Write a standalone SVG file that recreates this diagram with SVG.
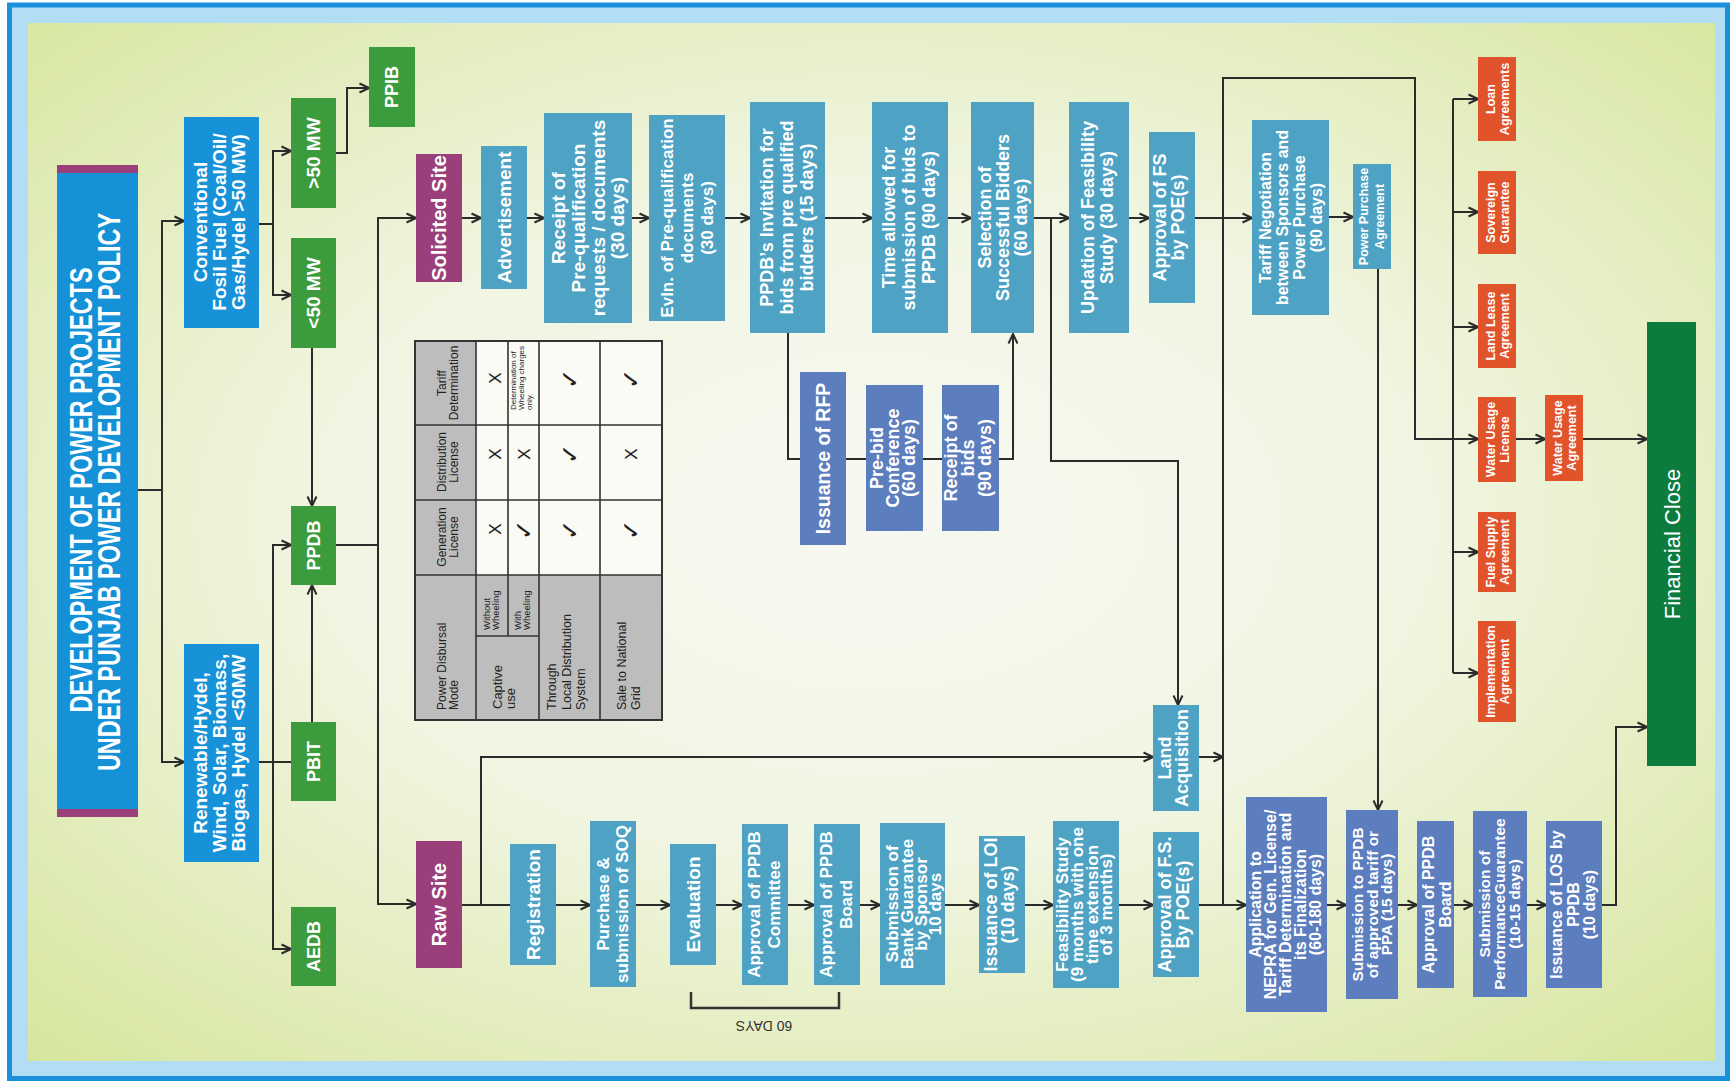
<svg xmlns="http://www.w3.org/2000/svg" width="1730" height="1085" viewBox="0 0 1730 1085">
<defs>
<radialGradient id="bg" cx="50%" cy="48%" r="72%">
<stop offset="0" stop-color="#f7f9f1"/>
<stop offset="0.45" stop-color="#f1f5e2"/>
<stop offset="1" stop-color="#d7e69e"/>
</radialGradient>
<marker id="ah" viewBox="0 0 12 12" refX="11" refY="6" markerWidth="12" markerHeight="12" markerUnits="userSpaceOnUse" orient="auto">
<path d="M1.5,1.5 L11,6 L1.5,10.5" fill="none" stroke="#2b2b2b" stroke-width="2"/>
</marker>
<style>
.w{font-family:"Liberation Sans",Arial,Helvetica,sans-serif;font-weight:bold;fill:#fff;text-anchor:middle}
.tb{font-family:"Liberation Sans",Arial,Helvetica,sans-serif;fill:#222;font-size:12px}
.sym{font-family:"DejaVu Sans","Liberation Sans",sans-serif;fill:#222;font-size:24px;text-anchor:middle}
.x{font-family:"Liberation Sans",Arial,sans-serif;fill:#222;font-size:17px;text-anchor:middle}
.c{fill:none;stroke:#2b2b2b;stroke-width:2}
.a{marker-end:url(#ah)}
.blue{fill:#1792d9}
.green{fill:#3b9b3d}
.teal{fill:#4ea3c4}
.ind{fill:#5c7dbe}
.org{fill:#e1532b}
.pur{fill:#9a3f7a}
.f12{font-size:12.5px}.f15{font-size:15.5px}.f16{font-size:16px}.f17{font-size:17px}.f18{font-size:18px}.f19{font-size:19px}.f20{font-size:20px}
</style>
</defs>

<rect x="9.5" y="5" width="1718" height="1073.5" fill="#b3ddf5" stroke="#1a8fdb" stroke-width="5"/>
<rect x="28" y="23" width="1687" height="1038" fill="url(#bg)"/>

<g id="connectors" class="c">
<path d="M138,490 H162"/>
<path class="a" d="M162,490 V221 H184"/>
<path class="a" d="M162,490 V762 H184"/>
<path d="M259,224 H273"/>
<path class="a" d="M273,224 V151 H291"/>
<path class="a" d="M273,224 V295 H291"/>
<path class="a" d="M336,153 H347 V88 H369"/>
<path class="a" d="M312,348 V506"/>
<path d="M259,762 H291"/>
<path class="a" d="M273,762 V545 H291"/>
<path class="a" d="M273,762 V949 H291"/>
<path class="a" d="M312,722 V585"/>
<path d="M336,545 H378"/>
<path class="a" d="M378,545 V218 H416"/>
<path class="a" d="M378,545 V904 H416"/>
<path class="a" d="M462,218 H481"/>
<path class="a" d="M527,218 H544"/>
<path class="a" d="M632,218 H649"/>
<path class="a" d="M725,218 H750"/>
<path class="a" d="M825,218 H872"/>
<path class="a" d="M948,218 H971"/>
<path class="a" d="M1034,218 H1069"/>
<path class="a" d="M1129,218 H1149"/>
<path class="a" d="M1195,218 H1252"/>
<path class="a" d="M1329,217 H1353"/>
<path d="M788,333 V459 H800"/>
<path d="M846,459 H866"/>
<path d="M923,459 H942"/>
<path class="a" d="M999,459 H1013 V334"/>
<path class="a" d="M1051,218 V461 H1178 V705"/>
<path d="M462,905 H510"/>
<path class="a" d="M481,905 V757 H1153"/>
<path class="a" d="M556,905 H590"/>
<path class="a" d="M636,905 H670"/>
<path class="a" d="M716,905 H742"/>
<path class="a" d="M788,905 H814"/>
<path class="a" d="M860,905 H880"/>
<path class="a" d="M945,905 H979"/>
<path class="a" d="M1025,905 H1053"/>
<path class="a" d="M1119,905 H1153"/>
<path class="a" d="M1199,905 H1246"/>
<path class="a" d="M1199,757 H1223"/>
<path class="a" d="M1223,905 V78 H1415 V439 H1478"/>
<path class="a" d="M1327,905 H1346"/>
<path class="a" d="M1398,905 H1417"/>
<path class="a" d="M1454,905 H1473"/>
<path class="a" d="M1527,905 H1546"/>
<path class="a" d="M1602,905 H1616 V727 H1647"/>
<path class="a" d="M1378,269 V810"/>
<path d="M1453,99 V673"/>
<path class="a" d="M1453,99 H1478"/>
<path class="a" d="M1453,212 H1478"/>
<path class="a" d="M1453,327 H1478"/>
<path class="a" d="M1453,552 H1478"/>
<path class="a" d="M1453,673 H1478"/>
<path class="a" d="M1516,439 H1545"/>
<path class="a" d="M1583,439 H1647"/>
<path d="M691,992 V1008 H839 V992" stroke="#333" stroke-width="2.5"/>
</g>
<text x="0" y="0" transform="translate(764,1021) rotate(180)" style="font-family:'Liberation Sans',Arial,sans-serif;font-size:14px;fill:#333;text-anchor:middle">60 DAYS</text>

<g id="n-title">
<rect x="57" y="165" width="81" height="652" fill="#1591d8"/>
<rect x="57" y="165" width="81" height="8" fill="#9a3f7a"/>
<rect x="57" y="809" width="81" height="8" fill="#9a3f7a"/>
<text class="w" style="font-size:32px" x="0" y="92" textLength="445" lengthAdjust="spacingAndGlyphs" transform="translate(0,490) rotate(-90)">DEVELOPMENT OF POWER PROJECTS</text>
<text class="w" style="font-size:32px" x="0" y="120" textLength="558" lengthAdjust="spacingAndGlyphs" transform="translate(0,492) rotate(-90)">UNDER PUNJAB POWER DEVELOPMENT POLICY</text>
</g>

<g id="n-conventional"><rect class="blue" x="184" y="117" width="75" height="211"/>
<text class="w f19" transform="translate(0,222) rotate(-90)"><tspan x="0" y="207">Conventional</tspan><tspan x="0" y="226">Fosil Fuel (Coal/Oil/</tspan><tspan x="0" y="245">Gas/Hydel &gt;50 MW)</tspan></text></g>
<g id="n-renewable"><rect class="blue" x="184" y="644" width="75" height="218"/>
<text class="w f19" transform="translate(0,753) rotate(-90)"><tspan x="0" y="207">Renewable/Hydel,</tspan><tspan x="0" y="226">Wind, Solar, Biomass,</tspan><tspan x="0" y="245">Biogas, Hydel &lt;50MW</tspan></text></g>

<g id="n-gt50"><rect class="green" x="291" y="98" width="45" height="110"/><text class="w f19" x="0" y="320" transform="translate(0,153) rotate(-90)">&gt;50 MW</text></g>
<g id="n-lt50"><rect class="green" x="291" y="238" width="45" height="110"/><text class="w f19" x="0" y="320" transform="translate(0,293) rotate(-90)">&lt;50 MW</text></g>
<g id="n-ppib"><rect class="green" x="369" y="47" width="46" height="80"/><text class="w f18" x="0" y="398" transform="translate(0,87) rotate(-90)">PPIB</text></g>
<g id="n-ppdb"><rect class="green" x="291" y="506" width="45" height="79"/><text class="w f18" x="0" y="320" transform="translate(0,545.5) rotate(-90)">PPDB</text></g>
<g id="n-pbit"><rect class="green" x="291" y="722" width="45" height="79"/><text class="w f18" x="0" y="320" transform="translate(0,761.5) rotate(-90)">PBIT</text></g>
<g id="n-aedb"><rect class="green" x="291" y="907" width="45" height="79"/><text class="w f18" x="0" y="320" transform="translate(0,946.5) rotate(-90)">AEDB</text></g>

<g id="n-solicited"><rect class="pur" x="416" y="154" width="46" height="128"/><text class="w f20" x="0" y="446" transform="translate(0,218) rotate(-90)">Solicited Site</text></g>
<g id="n-raw"><rect class="pur" x="416" y="841" width="46" height="127"/><text class="w f20" x="0" y="446" transform="translate(0,904.5) rotate(-90)">Raw Site</text></g>

<g id="n-advertisement"><rect class="teal" x="481" y="146" width="46" height="143"/><text class="w f19" x="0" y="511" transform="translate(0,217.5) rotate(-90)">Advertisement</text></g>
<g id="n-receipt-pq"><rect class="teal" x="544" y="113" width="88" height="210"/>
<text class="w f19" transform="translate(0,218) rotate(-90)"><tspan x="0" y="565">Receipt of</tspan><tspan x="0" y="585">Pre-qualification</tspan><tspan x="0" y="605">requests / documents</tspan><tspan x="0" y="624">(30 days)</tspan></text></g>
<g id="n-evln"><rect class="teal" x="649" y="115" width="76" height="206"/>
<text class="w f17" transform="translate(0,218) rotate(-90)"><tspan x="0" y="673">Evln. of Pre-qualification</tspan><tspan x="0" y="693">documents</tspan><tspan x="0" y="713">(30 days)</tspan></text></g>
<g id="n-invitation"><rect class="teal" x="750" y="102" width="75" height="231"/>
<text class="w f18" transform="translate(0,217.5) rotate(-90)"><tspan x="0" y="773">PPDB’s Invitation for</tspan><tspan x="0" y="793">bids from pre qualified</tspan><tspan x="0" y="813">bidders (15 days)</tspan></text></g>
<g id="n-time"><rect class="teal" x="872" y="102" width="76" height="231"/>
<text class="w f18" transform="translate(0,217.5) rotate(-90)"><tspan x="0" y="895">Time allowed for</tspan><tspan x="0" y="915">submission of bids to</tspan><tspan x="0" y="935">PPDB (90 days)</tspan></text></g>
<g id="n-selection"><rect class="teal" x="971" y="102" width="63" height="231"/>
<text class="w f18" transform="translate(0,217.5) rotate(-90)"><tspan x="0" y="991">Selection of</tspan><tspan x="0" y="1009">Successful Bidders</tspan><tspan x="0" y="1027">(60 days)</tspan></text></g>
<g id="n-updation"><rect class="teal" x="1069" y="102" width="60" height="231"/>
<text class="w f18" transform="translate(0,217.5) rotate(-90)"><tspan x="0" y="1094">Updation of Feasibility</tspan><tspan x="0" y="1113">Study (30 days)</tspan></text></g>
<g id="n-approval-fs"><rect class="teal" x="1149" y="132" width="46" height="171"/>
<text class="w f18" transform="translate(0,217.5) rotate(-90)"><tspan x="0" y="1166">Approval of FS</tspan><tspan x="0" y="1184">by POE(s)</tspan></text></g>
<g id="n-tariff"><rect class="teal" x="1252" y="120" width="77" height="195"/>
<text class="w f16" transform="translate(0,217.5) rotate(-90)"><tspan x="0" y="1271">Tariff Negotiation</tspan><tspan x="0" y="1288">between Sponsors and</tspan><tspan x="0" y="1305">Power Purchase</tspan><tspan x="0" y="1322">(90 days)</tspan></text></g>
<g id="n-ppa"><rect class="teal" x="1353" y="164" width="38" height="105"/>
<text class="w f12" transform="translate(0,216.5) rotate(-90)"><tspan x="0" y="1368">Power Purchase</tspan><tspan x="0" y="1384">Agreement</tspan></text></g>

<g id="n-rfp"><rect class="ind" x="800" y="372" width="46" height="173"/><text class="w" style="font-size:19.5px" x="0" y="830" transform="translate(0,458.5) rotate(-90)">Issuance of RFP</text></g>
<g id="n-prebid"><rect class="ind" x="866" y="385" width="57" height="146"/>
<text class="w f18" transform="translate(0,458) rotate(-90)"><tspan x="0" y="883">Pre-bid</tspan><tspan x="0" y="899">Conference</tspan><tspan x="0" y="915">(60 days)</tspan></text></g>
<g id="n-receipt-bids"><rect class="ind" x="942" y="385" width="57" height="146"/>
<text class="w f18" transform="translate(0,458) rotate(-90)"><tspan x="0" y="957">Receipt of</tspan><tspan x="0" y="974">bids</tspan><tspan x="0" y="991">(90 days)</tspan></text></g>

<g id="n-loan"><rect class="org" x="1478" y="57" width="38" height="84"/>
<text class="w f12" transform="translate(0,99) rotate(-90)"><tspan x="0" y="1495">Loan</tspan><tspan x="0" y="1509">Agreements</tspan></text></g>
<g id="n-sovereign"><rect class="org" x="1478" y="171" width="38" height="83"/>
<text class="w f12" transform="translate(0,212.5) rotate(-90)"><tspan x="0" y="1495">Sovereign</tspan><tspan x="0" y="1509">Guarantee</tspan></text></g>
<g id="n-landlease"><rect class="org" x="1478" y="284" width="38" height="84"/>
<text class="w f12" transform="translate(0,326) rotate(-90)"><tspan x="0" y="1495">Land Lease</tspan><tspan x="0" y="1509">Agreement</tspan></text></g>
<g id="n-wul"><rect class="org" x="1478" y="397" width="38" height="85"/>
<text class="w f12" transform="translate(0,439.5) rotate(-90)"><tspan x="0" y="1495">Water Usage</tspan><tspan x="0" y="1509">License</tspan></text></g>
<g id="n-fuel"><rect class="org" x="1478" y="512" width="38" height="80"/>
<text class="w f12" transform="translate(0,552) rotate(-90)"><tspan x="0" y="1495">Fuel Supply</tspan><tspan x="0" y="1509">Agreement</tspan></text></g>
<g id="n-impl"><rect class="org" x="1478" y="621" width="38" height="101"/>
<text class="w f12" transform="translate(0,671.5) rotate(-90)"><tspan x="0" y="1495">Implementation</tspan><tspan x="0" y="1509">Agreement</tspan></text></g>
<g id="n-wua"><rect class="org" x="1545" y="395" width="38" height="86"/>
<text class="w f12" transform="translate(0,438) rotate(-90)"><tspan x="0" y="1562">Water Usage</tspan><tspan x="0" y="1576">Agreement</tspan></text></g>
<g id="n-financial"><rect x="1647" y="322" width="49" height="444" fill="#0b7b3e"/>
<text class="w" style="font-size:22px;font-weight:normal" x="0" y="1680" transform="translate(0,544) rotate(-90)">Financial Close</text></g>

<g id="n-registration"><rect class="teal" x="510" y="844" width="46" height="121"/><text class="w f19" x="0" y="540" transform="translate(0,904.5) rotate(-90)">Registration</text></g>
<g id="n-purchase"><rect class="teal" x="590" y="821" width="46" height="166"/>
<text class="w f17" transform="translate(0,904) rotate(-90)"><tspan x="0" y="609">Purchase &amp;</tspan><tspan x="0" y="628">submission of SOQ</tspan></text></g>
<g id="n-evaluation"><rect class="teal" x="670" y="844" width="46" height="121"/><text class="w f19" x="0" y="700" transform="translate(0,904.5) rotate(-90)">Evaluation</text></g>
<g id="n-appr-committee"><rect class="teal" x="742" y="824" width="46" height="161"/>
<text class="w f17" transform="translate(0,904.5) rotate(-90)"><tspan x="0" y="760">Approval of PPDB</tspan><tspan x="0" y="780">Committee</tspan></text></g>
<g id="n-appr-board"><rect class="teal" x="814" y="824" width="46" height="161"/>
<text class="w f17" transform="translate(0,904.5) rotate(-90)"><tspan x="0" y="832">Approval of PPDB</tspan><tspan x="0" y="852">Board</tspan></text></g>
<g id="n-bank"><rect class="teal" x="880" y="823" width="65" height="162"/>
<text class="w f17" transform="translate(0,904) rotate(-90)"><tspan x="0" y="898">Submission of</tspan><tspan x="0" y="913">Bank Guarantee</tspan><tspan x="0" y="927">by Sponsor</tspan><tspan x="0" y="941">10 days</tspan></text></g>
<g id="n-loi"><rect class="teal" x="979" y="836" width="46" height="137"/>
<text class="w f18" transform="translate(0,904.5) rotate(-90)"><tspan x="0" y="997">Issuance of LOI</tspan><tspan x="0" y="1014">(10 days)</tspan></text></g>
<g id="n-feasibility"><rect class="teal" x="1053" y="821" width="66" height="167"/>
<text class="w f17" transform="translate(0,904.5) rotate(-90)"><tspan x="0" y="1068">Feasibility Study</tspan><tspan x="0" y="1083">(9 months with one</tspan><tspan x="0" y="1098">time extension</tspan><tspan x="0" y="1112">of 3 months)</tspan></text></g>
<g id="n-approval-fs2"><rect class="teal" x="1153" y="832" width="46" height="145"/>
<text class="w f18" transform="translate(0,904.5) rotate(-90)"><tspan x="0" y="1171">Approval of F.S.</tspan><tspan x="0" y="1189">By POE(s)</tspan></text></g>
<g id="n-land-acq"><rect class="teal" x="1153" y="705" width="46" height="106"/>
<text class="w f18" transform="translate(0,758) rotate(-90)"><tspan x="0" y="1171">Land</tspan><tspan x="0" y="1188">Acquisition</tspan></text></g>
<g id="n-nepra"><rect class="ind" x="1246" y="797" width="81" height="215"/>
<text class="w f16" transform="translate(0,904.5) rotate(-90)"><tspan x="0" y="1261">Application to</tspan><tspan x="0" y="1276">NEPRA for Gen. License/</tspan><tspan x="0" y="1291">Tariff Determination and</tspan><tspan x="0" y="1306">its Finalization</tspan><tspan x="0" y="1321">(60-180 days)</tspan></text></g>
<g id="n-sub-ppdb"><rect class="ind" x="1346" y="810" width="52" height="189"/>
<text class="w f15" transform="translate(0,904.5) rotate(-90)"><tspan x="0" y="1363">Submission to PPDB</tspan><tspan x="0" y="1378">of approved tariff  or</tspan><tspan x="0" y="1392">PPA (15 days)</tspan></text></g>
<g id="n-appr-board2"><rect class="ind" x="1417" y="821" width="37" height="167"/>
<text class="w f16" transform="translate(0,904.5) rotate(-90)"><tspan x="0" y="1434">Approval of PPDB</tspan><tspan x="0" y="1451">Board</tspan></text></g>
<g id="n-perf"><rect class="ind" x="1473" y="811" width="54" height="186"/>
<text class="w f15" transform="translate(0,904) rotate(-90)"><tspan x="0" y="1490">Submission of</tspan><tspan x="0" y="1505">PerformanceGuarantee</tspan><tspan x="0" y="1520">(10-15 days)</tspan></text></g>
<g id="n-los"><rect class="ind" x="1546" y="821" width="56" height="167"/>
<text class="w f16" transform="translate(0,904.5) rotate(-90)"><tspan x="0" y="1562">Issuance of LOS by</tspan><tspan x="0" y="1579">PPDB</tspan><tspan x="0" y="1595">(10 days)</tspan></text></g>

<g id="table">
<rect x="415" y="341" width="247" height="379" fill="#bdbdbd"/>
<rect x="476" y="341" width="186" height="234" fill="#fbfbf5"/>
<path d="M476,341 V720 M508,341 V636 M539,341 V720 M600,341 V720 M415,425 H662 M415,500 H662 M415,575 H662 M476,636 H539" stroke="#333" stroke-width="1.6" fill="none"/>
<rect x="415" y="341" width="247" height="379" fill="none" stroke="#333" stroke-width="2"/>
<text class="tb" text-anchor="middle" transform="translate(0,383) rotate(-90)"><tspan x="0" y="446">Tariff</tspan><tspan x="0" y="458">Determination</tspan></text>
<text class="tb" text-anchor="middle" transform="translate(0,462) rotate(-90)"><tspan x="0" y="446">Distribution</tspan><tspan x="0" y="458">License</tspan></text>
<text class="tb" text-anchor="middle" transform="translate(0,537) rotate(-90)"><tspan x="0" y="446">Generation</tspan><tspan x="0" y="458">License</tspan></text>
<text class="tb" transform="translate(0,710) rotate(-90)"><tspan x="0" y="446">Power Disbursal</tspan><tspan x="0" y="458">Mode</tspan></text>
<text class="tb" style="font-size:9.5px" transform="translate(0,630) rotate(-90)"><tspan x="0" y="490">Without</tspan><tspan x="0" y="499">Wheeling</tspan></text>
<text class="tb" style="font-size:9.5px" transform="translate(0,630) rotate(-90)"><tspan x="0" y="521">With</tspan><tspan x="0" y="530">Wheeling</tspan></text>
<text class="tb" style="font-size:13px" transform="translate(0,709) rotate(-90)"><tspan x="0" y="502">Captive</tspan><tspan x="0" y="515">use</tspan></text>
<text class="tb" style="font-size:12.5px" transform="translate(0,710) rotate(-90)"><tspan x="0" y="556">Through</tspan><tspan x="0" y="571">Local Distribution</tspan><tspan x="0" y="585">System</tspan></text>
<text class="tb" style="font-size:12.5px" transform="translate(0,710) rotate(-90)"><tspan x="0" y="626">Sale to National</tspan><tspan x="0" y="640">Grid</tspan></text>
<text class="tb" style="font-size:8px" transform="translate(0,410) rotate(-90)"><tspan x="0" y="516">Determination of</tspan><tspan x="0" y="524">Wheeling charges</tspan><tspan x="0" y="532">only.</tspan></text>
<text class="x" x="0" y="501" transform="translate(0,378) rotate(-90)">X</text>
<text class="x" x="0" y="501" transform="translate(0,454) rotate(-90)">X</text>
<text class="x" x="0" y="501" transform="translate(0,529) rotate(-90)">X</text>
<text class="x" x="0" y="530" transform="translate(0,454) rotate(-90)">X</text>
<text class="x" x="0" y="637" transform="translate(0,454) rotate(-90)">X</text>
<text class="sym" x="0" y="532" transform="translate(0,530) rotate(-90)">✓</text>
<text class="sym" x="0" y="578" transform="translate(0,379) rotate(-90)">✓</text>
<text class="sym" x="0" y="578" transform="translate(0,454) rotate(-90)">✓</text>
<text class="sym" x="0" y="578" transform="translate(0,530) rotate(-90)">✓</text>
<text class="sym" x="0" y="639" transform="translate(0,379) rotate(-90)">✓</text>
<text class="sym" x="0" y="639" transform="translate(0,530) rotate(-90)">✓</text>
</g>
</svg>
